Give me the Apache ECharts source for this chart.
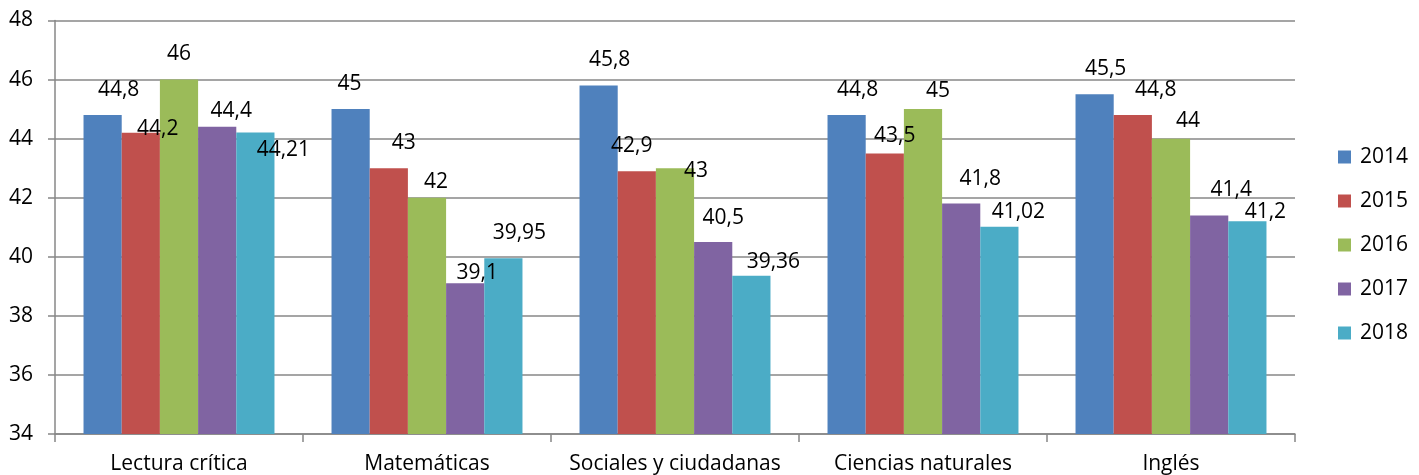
<!DOCTYPE html>
<html>
<head>
<meta charset="utf-8">
<script src="https://cdn.jsdelivr.net/npm/echarts@6/dist/echarts.min.js"></script>
<style>html,body{margin:0;padding:0;background:#fff}#c{width:1419px;height:475px}</style>
</head>
<body>
<div id="c"></div>
<script>
const categories = ['Lectura crítica', 'Matemáticas', 'Sociales y ciudadanas', 'Ciencias naturales', 'Inglés'];
const years = ['2014', '2015', '2016', '2017', '2018'];
const v2014 = [44.8, 45, 45.8, 44.8, 45.5];
const v2015 = [44.2, 43, 42.9, 43.5, 44.8];
const v2016 = [46, 42, 43, 45, 44];
const v2017 = [44.4, 39.1, 40.5, 41.8, 41.4];
const v2018 = [44.21, 39.95, 39.36, 41.02, 41.2];
const yTicks = [34, 36, 38, 40, 42, 44, 46, 48];

const colors = ['#4F81BD', '#C0504D', '#9BBB59', '#8064A2', '#4BACC6'];
// label nudges (dx, dy of label centre relative to bar top), per series per category
const labelNudge = [
  [[16,-25],[-1,-25],[11,-25],[11,-25],[11,-25]],
  [[17,-4],[15,-25],[-5,-25],[10,-17],[23,-25]],
  [[0,-26],[9,-16],[21,3],[15,-18],[17,-18]],
  [[14,-16],[12,-10],[10,-24],[19,-25],[22,-25]],
  [[28,18],[16,-25],[22,-14],[19,-15],[18,-9]]
];

const FONT = '"Open Sans", "Liberation Sans", sans-serif';
const FS = 21;
const all = [v2014, v2015, v2016, v2017, v2018];

const series = all.map((vals, si) => ({
  name: years[si],
  type: 'bar',
  barGap: '0%',
  barCategoryGap: '23%',
  itemStyle: { color: colors[si] },
  data: vals.map((v, ci) => ({
    value: v,
    label: { offset: [labelNudge[si][ci][0], labelNudge[si][ci][1] + 11] }
  })),
  label: {
    show: true,
    position: 'top',
    distance: 0,
    color: '#000',
    fontFamily: FONT,
    fontSize: FS,
    lineHeight: 22,
    formatter: p => String(p.value).replace('.', ',')
  }
}));

const chart = echarts.init(document.getElementById('c'), null, { renderer: 'canvas' });
chart.setOption({
  animation: false,
  color: colors,
  grid: { left: 55, right: 124, top: 20.5, bottom: 41, containLabel: false },
  legend: {
    orient: 'vertical',
    left: 1333,
    top: 141,
    icon: 'rect',
    itemWidth: 13,
    itemHeight: 13,
    itemGap: 22,
    data: years,
    textStyle: { fontFamily: FONT, fontSize: FS, color: '#000', lineHeight: 22, padding: [0, 0, 0, 4] }
  },
  xAxis: {
    type: 'category',
    data: categories,
    axisLine: { lineStyle: { color: '#878787', width: 1.5 } },
    axisTick: { show: true, length: 8, alignWithLabel: false, lineStyle: { color: '#878787', width: 1.5 } },
    axisLabel: { margin: 20, color: '#000', fontFamily: FONT, fontSize: FS, interval: 0 }
  },
  yAxis: {
    type: 'value',
    min: 34,
    max: 48,
    interval: 2,
    axisLine: { show: true, lineStyle: { color: '#878787', width: 1.5 } },
    axisTick: { show: true, length: 7, lineStyle: { color: '#878787', width: 1.5 } },
    splitLine: { lineStyle: { color: '#878787', width: 1.5 } },
    axisLabel: {
      margin: 22,
      color: '#000',
      fontFamily: FONT,
      fontSize: FS,
      formatter: v => yTicks.includes(v) ? String(v) : ''
    }
  },
  series: series
});
</script>
</body>
</html>
